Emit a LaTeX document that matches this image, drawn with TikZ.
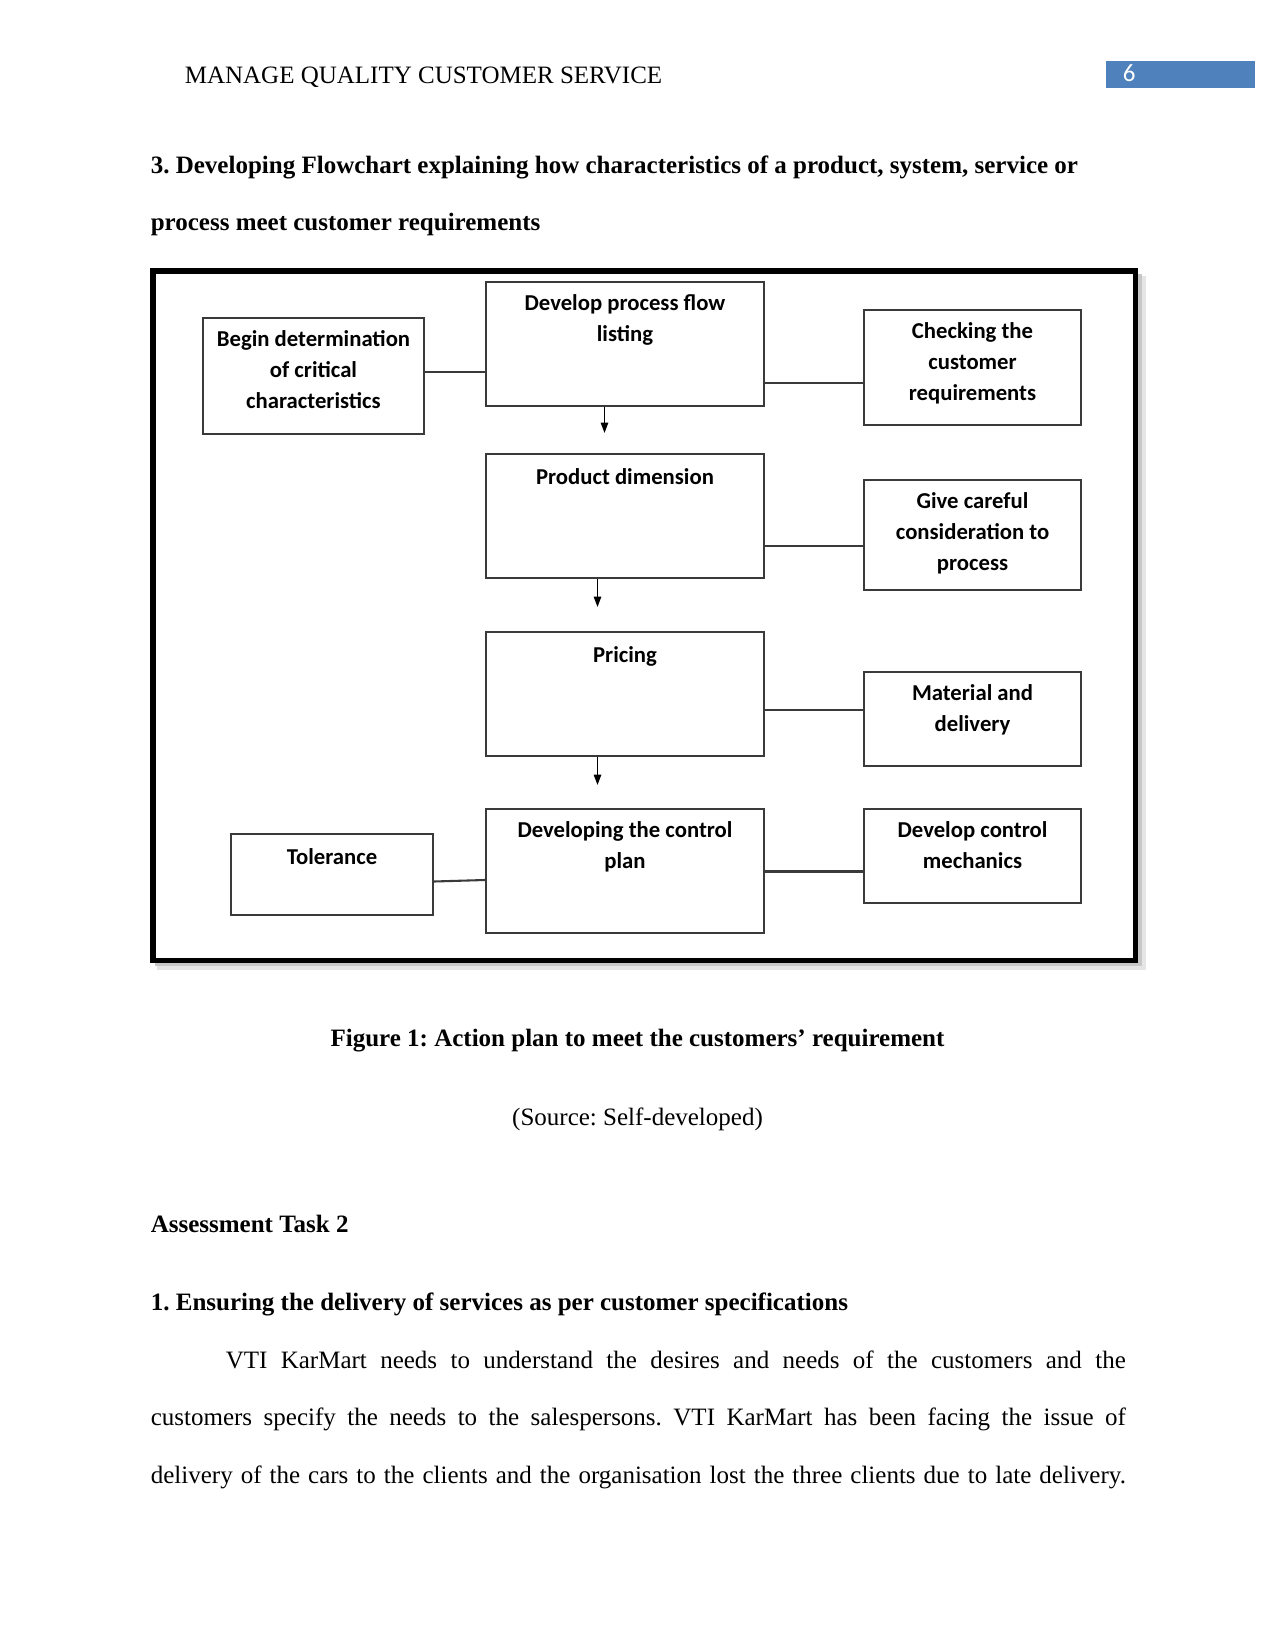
\documentclass[tikz,border=0pt]{standalone}
\usepackage{fontspec}
\setmainfont{Liberation Serif}
\newfontfamily\boxfont{Carlito}
\usetikzlibrary{arrows.meta, positioning, fit}
\definecolor{cblue}{HTML}{4F81BD}
\definecolor{cline}{HTML}{3A3A3A}
\newcommand{\pxu}{0.48pt}
\frenchspacing
\tikzset{
  every picture/.style={line width=0.8pt},
  box/.style={draw=cline, inner sep=0pt, line width=1pt},
  lbl/.style={anchor=north, align=center, inner sep=0pt, yshift=-5.9pt,
    execute at begin node={\rule{0pt}{9pt}},
    font=\boxfont\bfseries\fontsize{10.9}{15.1}\selectfont},
  link/.style={draw=cline, line width=1pt},
  arrow/.style={-{Triangle[length=5pt, width=3.6pt]}, draw=black, line width=0.7pt},
  body/.style={anchor=base west, inner sep=0pt, font=\fontsize{12}{14}\selectfont},
  head/.style={body, font=\bfseries\fontsize{12}{14}\selectfont},
}

\begin{document}
\begin{tikzpicture}[x=\pxu, y=-\pxu]
  \useasboundingbox[fill=white] (0,0) rectangle (1275,1650);
  % running head
  \node[body] (runhead) at (184,84) {MANAGE QUALITY CUSTOMER SERVICE};
  \node[fill=cblue, inner sep=0pt, fit={(1106,61) (1255,88)}] (pgbox) {};
  \node[anchor=base west, inner sep=0pt, text=white, font=\boxfont\fontsize{12}{14}\selectfont] (pgnum) at (1122,82) {6};
  % section heading
  \node[head] (h1) at (150,174) {3. Developing Flowchart explaining how characteristics of a product, system, service or};
  \node[head] (h2) at (150,231) {process meet customer requirements};
  % frame with soft shadow
  \fill[black!10] (157,276) rectangle (1146,970);
  \fill[black!22] (155,274) rectangle (1142,966);
  \draw[line width=2.64pt, fill=white] (153,271.2) rectangle (1135.5,960.6);
  % boxes
  \node[box, fit={(203,318) (424,434)}, label={[lbl]north:Begin determination\\of critical\\characteristics}] (begin) {};
  \node[box, fit={(486,282) (764,406)}, label={[lbl]north:Develop process flow\\listing}] (plan) {};
  \node[box, fit={(864,310) (1081,425)}, label={[lbl]north:Checking the\\customer\\requirements}] (check) {};
  \node[box, fit={(486,454) (764,578)}, label={[lbl]north:Product dimension}] (dim) {};
  \node[box, fit={(864,480) (1081,590)}, label={[lbl]north:Give careful\\consideration to\\process}] (care) {};
  \node[box, fit={(486,632) (764,756)}, label={[lbl]north:Pricing}] (price) {};
  \node[box, fit={(864,672) (1081,766)}, label={[lbl]north:Material and\\delivery}] (material) {};
  \node[box, fit={(486,809) (764,933)}, label={[lbl]north:Developing the control\\plan}] (ctrl) {};
  \node[box, fit={(864,809) (1081,903)}, label={[lbl]north:Develop control\\mechanics}] (mech) {};
  \node[box, fit={(231,834) (433,915)}, label={[lbl]north:Tolerance}] (tol) {};
  % links
  \draw[link] (begin.east |- 0,372) -- (plan.west |- 0,372);
  \draw[link] (plan.east |- 0,383) -- (check.west |- 0,383);
  \draw[link] (dim.east |- 0,546) -- (care.west |- 0,546);
  \draw[link] (price.east |- 0,710) -- (material.west |- 0,710);
  \draw[link] (ctrl.east |- 0,871.5) -- (mech.west |- 0,871.5);
  \draw[link] (tol.east |- 0,881.5) -- (ctrl.west |- 0,880);
  % arrows down the middle column
  \draw[arrow, shorten >=20*\pxu] (plan.south -| 604.5,0) -- (dim.north -| 604.5,0);
  \draw[arrow, shorten >=24*\pxu] (dim.south -| 597.5,0) -- (price.north -| 597.5,0);
  \draw[arrow, shorten >=23*\pxu] (price.south -| 597.5,0) -- (ctrl.north -| 597.5,0);
  % caption
  \node[head, anchor=base] (cap) at (637.5,1046) {Figure 1: Action plan to meet the customers’ requirement};
  \node[body, anchor=base] (src) at (637.5,1125) {(Source: Self-developed)};
  % next section
  \node[head] (task) at (150,1232) {Assessment Task 2};
  \node[head] (sec1) at (150,1310) {1. Ensuring the delivery of services as per customer specifications};
  \node[body] (p1) at (225,1368) {\makebox[432pt][s]{VTI KarMart needs to understand the desires and needs of the customers and the}};
  \node[body] (p2) at (150,1425.5) {\makebox[468pt][s]{customers specify the needs to the salespersons. VTI KarMart has been facing the issue of}};
  \node[body] (p3) at (150,1483) {\makebox[468pt][s]{delivery of the cars to the clients and the organisation lost the three clients due to late delivery.}};
\end{tikzpicture}
\end{document}
